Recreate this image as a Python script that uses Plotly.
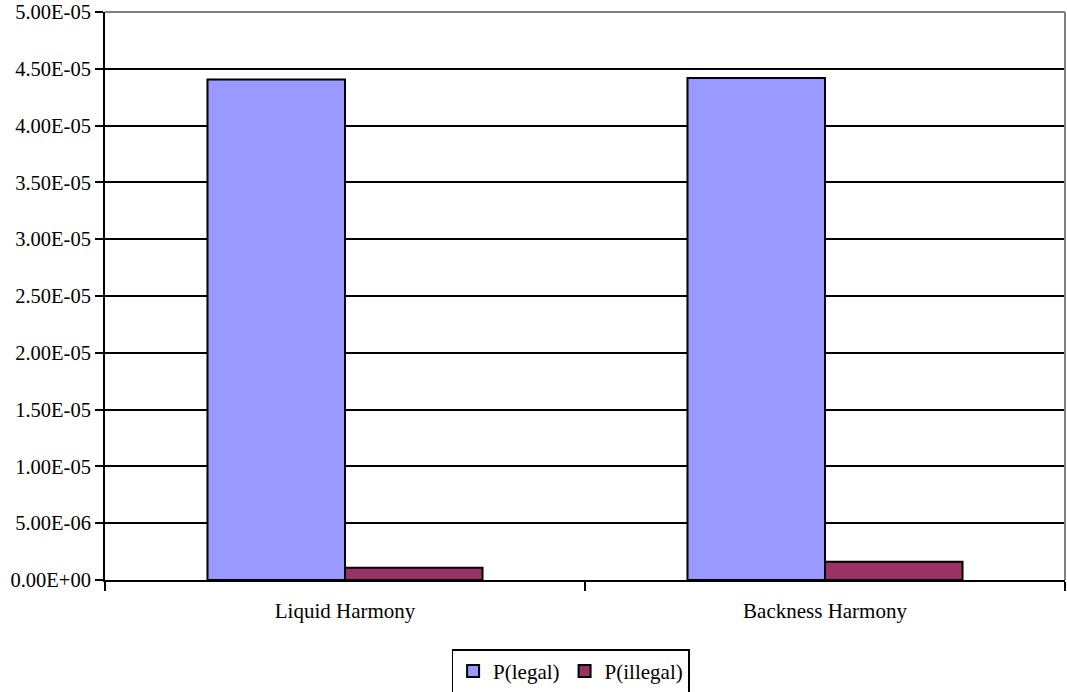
import plotly.graph_objects as go

categories = ["Liquid Harmony", "Backness Harmony"]
p_legal = [4.405e-05, 4.42e-05]
p_illegal = [1.08e-06, 1.6e-06]
y_ticks = [i * 5e-06 for i in range(11)]
y_tick_labels = [f"{v:.2E}" for v in y_ticks]

serif = "Liberation Serif, Times New Roman, serif"
font = dict(family=serif, size=21, color="black")
yfont = dict(family=serif, size=20.5, color="black")

fig = go.Figure()
fig.add_trace(go.Bar(
    name="P(legal)", x=categories, y=p_legal,
    marker=dict(color="#9999ff", line=dict(color="black", width=2)),
))
fig.add_trace(go.Bar(
    name="P(illegal)", x=categories, y=p_illegal,
    marker=dict(color="#993366", line=dict(color="black", width=2)),
))

fig.update_layout(
    width=1067, height=692,
    margin=dict(l=105, r=2, t=12, b=112, autoexpand=False),
    paper_bgcolor="white", plot_bgcolor="white",
    font=font,
    barmode="group", bargap=0.427, bargroupgap=0,
    showlegend=True,
    legend=dict(
        orientation="h", x=0.485, xanchor="center", y=-0.122, yanchor="top",
        bordercolor="black", borderwidth=1.5, font=font,
        itemwidth=30, tracegroupgap=0,
    ),
    xaxis=dict(
        type="category", tickson="boundaries", ticks="outside", ticklen=9,
        tickcolor="black", tickwidth=1.5, ticklabelstandoff=11,
        showline=True, linecolor="black", linewidth=2,
        showgrid=False, tickfont=font, automargin=False,
    ),
    yaxis=dict(
        range=[0, 5e-05], tickvals=y_ticks, ticktext=y_tick_labels,
        ticks="outside", ticklen=8, tickcolor="black", tickwidth=1.5,
        showline=True, linecolor="black", linewidth=2,
        showgrid=True, gridcolor="black", gridwidth=1.5,
        zeroline=False, tickfont=yfont, automargin=False,
    ),
    shapes=[
        # grey top and right edges of the plot frame
        dict(type="line", xref="paper", yref="paper", x0=0, x1=1, y0=1, y1=1,
             line=dict(color="#808080", width=2)),
        dict(type="line", xref="paper", yref="paper", x0=1, x1=1, y0=0, y1=1,
             line=dict(color="#808080", width=2)),
    ],
)

fig.write_html("out.html")
